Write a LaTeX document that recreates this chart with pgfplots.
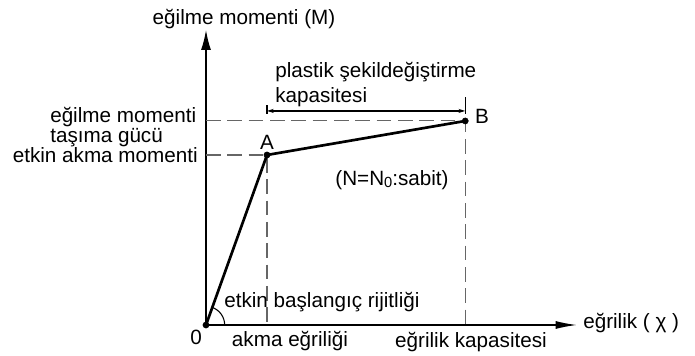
\documentclass[border=0pt]{standalone}
\usepackage{pgfplots}
\pgfplotsset{compat=1.18}
\usepackage{fontspec}
\setmainfont{Liberation Sans}
\usetikzlibrary{arrows.meta}

\begin{document}
\begin{tikzpicture}[font=\fontsize{15.5pt}{18pt}\selectfont]
% fixed frame of the drawing (origin of the diagram at the axis corner)
\path[use as bounding box] (-154.5pt,-23.25pt) rectangle (366.75pt,243.75pt);

\begin{axis}[
  at={(0,0)}, anchor=south west,
  scale only axis, width=278.25pt, height=221.25pt,
  xmin=0, xmax=6.082, ymin=0, ymax=1.735,
  axis x line=bottom, axis y line=left,
  x axis line style={line width=1.1pt, -{Latex[length=16pt,width=6pt]}},
  y axis line style={line width=1.1pt, -{Latex[length=15pt,width=7.5pt]}},
  xtick=\empty, ytick=\empty,
  clip=false,
]
  % reference lines to the yield point A and the capacity point B
  \addplot[black!60, line width=0.8pt, dash pattern=on 11pt off 5pt]
    coordinates {(0,1) (1,1) (1,0)};
  \addplot[black!60, line width=0.8pt, dash pattern=on 11pt off 5pt]
    coordinates {(0,1.2) (4.25,1.2) (4.25,0)};

  % bilinear moment--curvature relation O-A-B
  \addplot[black, line width=2pt] coordinates {(0,0) (1,1) (4.25,1.2)};
  \addplot[only marks, mark=*, mark size=2.3pt, black]
    coordinates {(0,0) (1,1) (4.25,1.2)};

  % plastic deformation capacity dimension line
  \addplot[black, line width=0.9pt, {Stealth[length=5pt,width=3pt]}-{Stealth[length=5pt,width=3pt]}]
    coordinates {(1,1.259) (4.25,1.259)};
  \addplot[black, line width=0.8pt] coordinates {(1,1.241) (1,1.294)};
  \addplot[black, line width=0.8pt] coordinates {(4.25,1.241) (4.25,1.341)};

  % angle of the initial stiffness
  \draw[line width=0.8pt] (axis cs:0,0) ++(0:14pt)
    arc[start angle=0, end angle=70.3, radius=14pt];
\end{axis}

\begin{scope}[shift={(-154.5pt,243.75pt)}, x=0.75pt, y=-0.75pt,
              every node/.style={inner sep=0pt}]
  \node at (244,19) {eğilme momenti (M)};
  \node[anchor=west, align=left, font=\fontsize{15.5pt}{12.5pt}\selectfont]
    at (50,127) {eğilme momenti\\taşıma gücü};
  \node[anchor=east] at (198,155) {etkin akma momenti};
  \node at (267,142) {A};
  \node at (482,116) {B};
  \node at (392,180) {(N=N\raisebox{-1.5pt}{\fontsize{11pt}{11pt}\selectfont 0}:sabit)};
  \node[anchor=west, align=left, font=\fontsize{15.5pt}{18.75pt}\selectfont]
    at (275,84.5) {plastik şekildeğiştirme\\kapasitesi};
  \node[anchor=west] at (224,302) {etkin başlangıç rijitliği};
  \node at (196,337) {0};
  \node at (290,341) {akma eğriliği};
  \node at (471,342) {eğrilik kapasitesi};
  \node[anchor=west] at (583,323) {eğrilik ( χ )};
\end{scope}
\end{tikzpicture}
\end{document}
